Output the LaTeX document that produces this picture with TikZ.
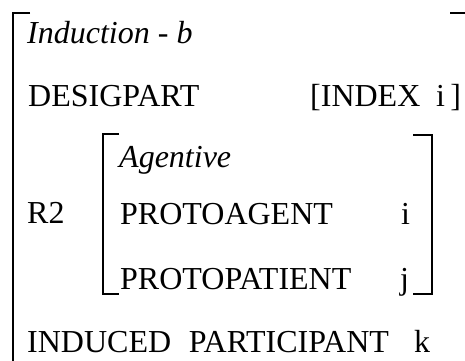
\documentclass[tikz,border=0pt]{standalone}
\usepackage{fontspec}
\setmainfont{Liberation Serif}
\begin{document}
\begin{tikzpicture}[x=1pt,y=-1pt]
    \tikzstyle{feat}=[anchor=base west,inner sep=0pt,font=\fontsize{32}{38}\selectfont]
    \tikzstyle{type}=[feat,font=\fontsize{32}{38}\selectfont\itshape]
    \tikzstyle{brack}=[line width=1.8pt]
    \useasboundingbox (0,0) rectangle (465,360);
    % outer matrix
    \draw[brack] (30,13) -- (13,13) -- (13,362);
    \draw[brack] (450,13) -- (466,13);
    \node[type] (induction) at (27,43) {Induction - b};
    \node[feat] (desigpart) at (28,106) {DESIGPART};
    \node[feat] (index) at (310,106) {[INDEX};
    \node[feat] (indexval) at (436,106) {i\,]};
    \node[feat] (rtwo) at (27,223) {R2};
    % inner matrix
    \draw[brack] (119,134) -- (103,134) -- (103,294) -- (119,294);
    \draw[brack] (413,135) -- (432,135) -- (432,294) -- (413,294);
    \node[type] (agentive) at (119,167) {Agentive};
    \node[feat] (protoagent) at (120,224) {PROTOAGENT};
    \node[feat] (agentval) at (401,224) {i};
    \node[feat] (protopatient) at (120,289) {PROTOPATIENT};
    \node[feat] (patientval) at (400,289) {j};
    \node[feat] (induced) at (27,352) {INDUCED\hspace{0.55em}PARTICIPANT};
    \node[feat] (inducedval) at (414,352) {k};
\end{tikzpicture}
\end{document}
